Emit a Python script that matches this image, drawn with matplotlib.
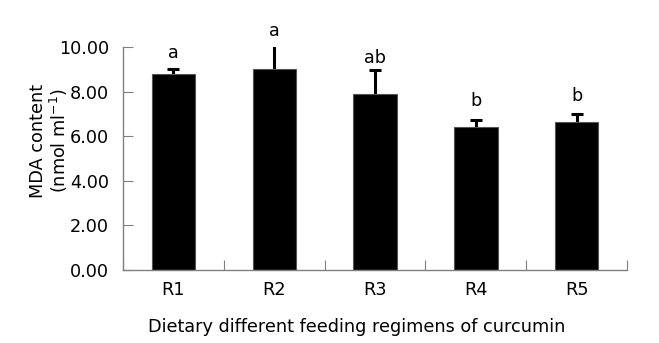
import numpy as np
import matplotlib.pyplot as plt

# data
groups = ["R1", "R2", "R3", "R4", "R5"]
mda_mean = [8.79, 9.04, 7.92, 6.43, 6.66]
mda_err = [0.24, 1.10, 1.06, 0.29, 0.34]
letters = ["a", "a", "ab", "b", "b"]
letter_y = [9.53, 10.51, 9.28, 7.36, 7.59]

FS = 12.7

fig = plt.figure(figsize=(6.59, 3.43), dpi=100)
ax = fig.add_axes([0.1867, 0.2128, 0.7648, 0.6492])

x = np.arange(len(groups))
ax.bar(x, mda_mean, width=0.43, color="black", edgecolor="#555555", linewidth=0.8, zorder=2)
# error bars sit behind the bars so only the upper half shows
ax.errorbar(x, mda_mean, yerr=mda_err, fmt="none",
            ecolor="black", elinewidth=2.2, capsize=4.5, capthick=2.2, zorder=1)

for xi, yi, t in zip(x, letter_y, letters):
    ax.text(xi, yi, t, ha="center", va="baseline", fontsize=FS, clip_on=False)

ax.set_xlim(-0.5, 4.5)
ax.set_ylim(0, 10)
ax.set_yticks(np.arange(0, 10.01, 2))
ax.set_yticklabels([f"{v:.2f}" for v in np.arange(0, 10.01, 2)], fontsize=FS)

# category boundaries get tick marks, labels sit at centres
ax.set_xticks(np.arange(-0.5, 4.6, 1))
ax.set_xticklabels([])
ax.set_xticks(x, minor=True)
ax.set_xticklabels(groups, minor=True, fontsize=FS)
ax.tick_params(axis="x", which="major", direction="in", length=7, color="#808080")
ax.tick_params(axis="x", which="minor", length=0, pad=8)
ax.tick_params(axis="y", direction="in", length=7, color="#808080", pad=10)

for s in ["top", "right"]:
    ax.spines[s].set_visible(False)
for s in ["left", "bottom"]:
    ax.spines[s].set_color("#808080")
    ax.spines[s].set_linewidth(1.0)

fig.text(0.057, 0.59, "MDA content", rotation=90, ha="center", va="center", fontsize=FS)
fig.text(0.089, 0.59, "(nmol ml$^{-1}$)", rotation=90, ha="center", va="center", fontsize=FS)
fig.text(0.542, 0.047, "Dietary different feeding regimens of curcumin", ha="center", va="center", fontsize=FS)

fig.savefig("out.png", dpi=100)
